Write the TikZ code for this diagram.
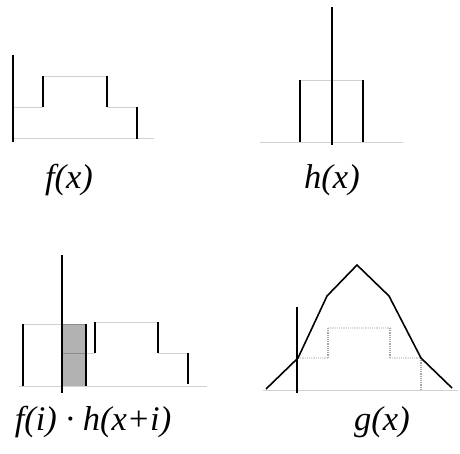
\documentclass[tikz,border=0pt]{standalone}
\usepackage{fontspec}
\setmainfont{Liberation Serif}
\begin{document}
\begin{tikzpicture}[x=1pt, y=-1pt,
    barra/.style={line width=2.2pt, black},
    guia/.style={line width=1pt, black!18},
    punteado/.style={line width=1.2pt, black!35, densely dotted},
    curva/.style={line width=1.6pt, black, line join=miter},
    etiqueta/.style={font=\fontsize{34.5}{38}\selectfont\itshape, inner sep=0pt}]
    \useasboundingbox (0,0) rectangle (460,453);
    % funcion f
    \draw[guia] (13,138) -- (154,138);
    \draw[guia] (13,107) -- (43,107) (43,76) -- (107,76) (107,107) -- (137,107);
    \draw[barra] (13,55) -- (13,142);
    \draw[barra] (43,76) -- (43,107);
    \draw[barra] (107,76) -- (107,107);
    \draw[barra] (137,107) -- (137,139);
    \node[etiqueta] (fx) at (69,180) {f(x)};
    % nucleo h
    \draw[guia] (260,142) -- (403,142);
    \draw[guia] (300,80) -- (363,80);
    \draw[barra] (300,80) -- (300,142);
    \draw[barra] (363,80) -- (363,142);
    \draw[barra] (332,7) -- (332,145);
    \node[etiqueta] (hx) at (332,180) {h(x)};
    % producto desplazado
    \draw[guia] (19,386) -- (207,386);
    \draw[guia] (23,324) -- (62,324);
    \fill[black!30] (62,324) rectangle (86,386);
    \draw[line width=1pt, black!45] (62,324) -- (86,324);
    \draw[line width=1pt, black!45] (62,353) -- (86,353);
    \draw[guia] (86,353) -- (95,353) (95,322) -- (158,322) (158,353) -- (188,353);
    \draw[barra] (23,324) -- (23,386);
    \draw[barra] (86,324) -- (86,386);
    \draw[barra] (95,322) -- (95,353);
    \draw[barra] (158,322) -- (158,353);
    \draw[barra] (188,353) -- (188,384);
    \draw[barra] (62,255) -- (62,393);
    \node[etiqueta] (prod) at (93,422) {f(i) · h(x+i)};
    % resultado g
    \draw[guia] (263,390) -- (458,390);
    \draw[punteado, black!15] (298,358) -- (328,358) (328,328) -- (390,328) (390,358) -- (421,358);
    \draw[punteado] (328,328) -- (328,358) (390,328) -- (390,358) (421,358) -- (421,390);
    \draw[curva] (266,389) -- (298,358) -- (327,296) -- (357,265) -- (389,296) -- (421,358) -- (452,388);
    \draw[barra] (297,307) -- (297,393);
    \node[etiqueta] (gx) at (382,422) {g(x)};
\end{tikzpicture}
\end{document}
